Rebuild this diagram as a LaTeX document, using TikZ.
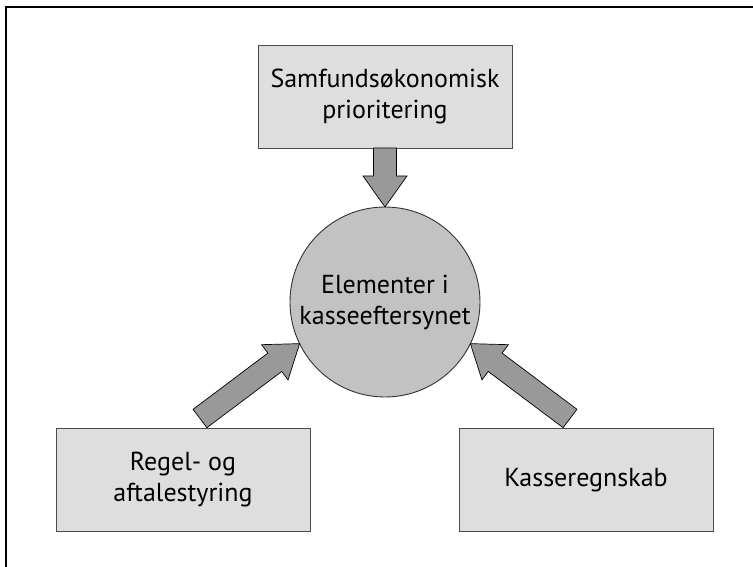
\documentclass[tikz,border=0pt]{standalone}
\usepackage{fontspec}
\setmainfont{PT Sans}
\usetikzlibrary{calc}

\definecolor{boxgray}{gray}{0.87}
\definecolor{hubgray}{gray}{0.76}
\definecolor{arrowgray}{gray}{0.60}

\tikzset{
  label font/.style={font=\fontsize{26}{31}\selectfont},
  box/.style={draw=black!70, line width=0.9pt, fill=boxgray, minimum width=254pt,
    minimum height=103pt, align=center, inner sep=0pt, outer sep=0pt, label font},
  hub/.style={circle, draw=black!80, line width=0.9pt, fill=hubgray, minimum size=190pt,
    align=center, inner sep=0pt, outer sep=0pt, label font},
  fatarrow/.style={draw=black, line width=0.7pt, fill=arrowgray, line join=miter},
  frame/.style={line width=2.2pt, black}
}

% thick outlined block arrow from #1 (tail) to #2 (tip); #3 is a prefix for helper points
\newcommand\blockarrow[3]{%
  \coordinate (#3-c) at ($(#2)!31pt!(#1)$);
  \draw[fatarrow]
    ($(#1)!11.5pt!90:(#2)$) -- ($(#3-c)!11.5pt!90:(#2)$) -- ($(#3-c)!22pt!90:(#2)$)
    -- (#2) -- ($(#3-c)!22pt!-90:(#2)$) -- ($(#3-c)!11.5pt!-90:(#2)$)
    -- ($(#1)!11.5pt!-90:(#2)$) -- cycle;
}

\begin{document}
\begin{tikzpicture}[x=1pt, y=-1pt]
  \useasboundingbox (0,0) rectangle (753,567);

  % open frame: left and top edges only
  \draw[frame] (6,570) -- (6,7) -- (756,7);

  \node[box] (prio) at (385,96.5) {Samfundsøkonomisk\\prioritering};
  \node[box] (regel) at (183,480) {Regel- og\\aftalestyring};
  \node[box] (kasse) at (586,480) {Kasseregnskab};
  \node[hub] (hub) at (385,302) {Elementer i\\kasseeftersynet};

  \coordinate (regel-out) at ($(regel.north)+(17,-10)$);
  \coordinate (kasse-out) at ($(kasse.north)+(-16,-10)$);

  \blockarrow{prio.south}{hub.north}{a1}
  \blockarrow{regel-out}{hub.206.8}{a2}
  \blockarrow{kasse-out}{hub.-26.8}{a3}
\end{tikzpicture}
\end{document}
